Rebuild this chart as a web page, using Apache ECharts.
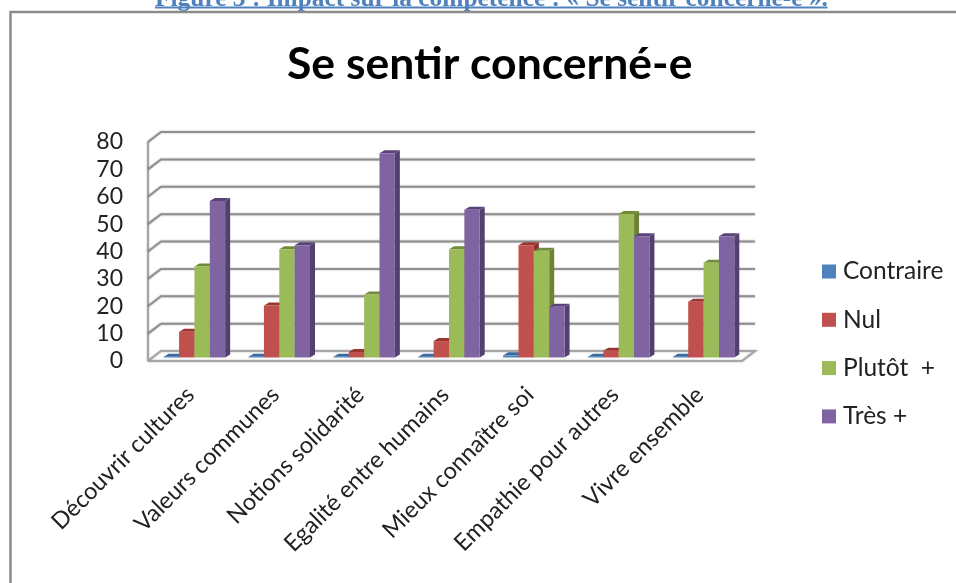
<!DOCTYPE html>
<html><head><meta charset="utf-8">
<style>html,body{margin:0;padding:0;background:#fff}#c{width:956px;height:583px}</style>
<script src="https://cdn.jsdelivr.net/npm/echarts@6/dist/echarts.min.js"></script>
</head><body><div id="c"></div>
<script>
const caption = 'Figure 3 : Impact sur la compétence : « Se sentir concerné-e ».';
const chartTitle = 'Se sentir concerné-e';
const categories = ['Découvrir cultures','Valeurs communes','Notions solidarité','Egalité entre humains','Mieux connaître soi','Empathie pour autres','Vivre ensemble'];
const contraire = [0.3,0.3,0.3,0.3,0.8,0.3,0.3];
const nul = [9.4,19,2,6,41,2.5,20.4];
const plutot = [33.2,39.5,23,39.5,39,52.4,34.6];
const tres = [57.2,41,74.6,54,18.5,44.3,44.3];
const yTicks = [0,10,20,30,40,50,60,70,80];

const seriesDefs = [
  {name:'Contraire', data:contraire, face:'#4F81BD', top:'#3A6A9E', side:'#2F5680'},
  {name:'Nul', data:nul, face:'#C0504D', top:'#9A3532', side:'#8A2F2C'},
  {name:'Plutôt  +', data:plutot, face:'#9BBB59', top:'#6F8C38', side:'#6B8237'},
  {name:'Très +', data:tres, face:'#8064A2', top:'#5A4378', side:'#52406F'}
];
const WALL_DX=13, WALL_DY=-10, BAR_DX=4, BAR_DY=-3.5, SIDE_DX=5, SIDE_DY=-3;
const lineStyle={stroke:'#8f8f8f',lineWidth:2,fill:null,shadowBlur:2,shadowColor:'rgba(0,0,0,0.3)'};

function wallItem(params,api){
  const v=api.value(0);
  const cs=params.coordSys;
  const y=api.coord([0,v])[1];
  const L=cs.x,R=cs.x+cs.width;
  const children=[];
  if(v===0){
    children.push({type:'polyline',shape:{points:[[L,y],[R,y],[R+WALL_DX,y+WALL_DY],[L+WALL_DX,y+WALL_DY],[L,y]]},style:Object.assign({},lineStyle,{stroke:'#a6a6a6'})});
    children.push({type:'line',shape:{x1:L,y1:y,x2:L,y2:cs.y},style:Object.assign({},lineStyle,{stroke:'#a6a6a6'})});
  } else {
    children.push({type:'polyline',shape:{points:[[L,y],[L+WALL_DX,y+WALL_DY],[R+WALL_DX,y+WALL_DY]]},style:lineStyle});
  }
  return {type:'group',children};
}
function barItem(idx,def){
  return function(params,api){
    const cat=api.value(0), val=api.value(1);
    const base=api.coord([cat,0]);
    const topP=api.coord([cat,val]);
    const band=api.size([1,0])[0];
    const w=band*0.181;
    const x0=base[0]+BAR_DX+(idx-2)*w, x1=x0+w;
    const y0=base[1]+BAR_DY, y1=topP[1]+BAR_DY;
    return {type:'group',children:[
      {type:'polygon',shape:{points:[[x1,y0],[x1+SIDE_DX,y0+SIDE_DY],[x1+SIDE_DX,y1+SIDE_DY],[x1,y1]]},style:{fill:def.side}},
      {type:'polygon',shape:{points:[[x0,y1],[x0+SIDE_DX,y1+SIDE_DY],[x1+SIDE_DX,y1+SIDE_DY],[x1,y1]]},style:{fill:def.top}},
      {type:'rect',shape:{x:x0,y:y1,width:w,height:y0-y1},style:{fill:def.face}}
    ]};
  };
}
const series=[{type:'custom',name:'walls',silent:true,z:1,coordinateSystem:'cartesian2d',
  data:yTicks.map(v=>[0,v]),encode:{y:1},renderItem:(p,a)=>{const v=a.value(1);return wallItem(p,{value:()=>v,coord:a.coord});},clip:false,animation:false}];
seriesDefs.forEach((d,i)=>series.push({type:'custom',name:d.name,z:2+i,clip:false,animation:false,
  itemStyle:{color:d.face},encode:{x:0,y:1},
  data:d.data.map((v,k)=>[k,v]),renderItem:barItem(i,d)}));

const chart=echarts.init(document.getElementById('c'),null,{renderer:'canvas'});
const sans='Lato, "Noto Sans", sans-serif';
chart.setOption({
  animation:false,backgroundColor:'#fff',
  title:{text:chartTitle,left:287,top:42,itemGap:0,padding:0,
    textStyle:{fontFamily:sans,fontSize:44.5,fontWeight:'bold',color:'#000'}},
  legend:{orient:'vertical',left:817,top:254,itemWidth:14,itemHeight:14,itemGap:23.3,icon:'rect',
    data:seriesDefs.map(d=>d.name),selectedMode:false,
    textStyle:{fontFamily:sans,fontSize:24.5,color:'#222',lineHeight:24,padding:[0,0,0,2]}},
  grid:{left:148,top:142,width:594,height:219,containLabel:false},
  xAxis:{type:'category',data:categories,axisLine:{show:false},axisTick:{show:false},splitLine:{show:false},
    axisLabel:{rotate:45,interval:0,margin:30,fontFamily:sans,fontSize:23.5,color:'#222'}},
  yAxis:{type:'value',min:0,max:80,interval:10,axisLine:{show:false},axisTick:{show:false},splitLine:{show:false},
    axisLabel:{margin:25,fontFamily:sans,fontSize:23,color:'#222',padding:[8,0,0,0]}},
  graphic:[
    {type:'text',silent:true,z:1,style:{x:491.5,y:12,text:caption,align:'center',verticalAlign:'bottom',
      font:'bold 25.4px "Liberation Serif", serif',fill:'#4F81BD'}},
    {type:'rect',silent:true,z:2,shape:{x:155,y:6.5,width:672.5,height:2},style:{fill:'#4F81BD'}},
    {type:'polyline',silent:true,z:3,shape:{points:[[10.5,583],[10.5,12],[956,12]]},style:{stroke:'#8c8c8c',lineWidth:2.5,fill:null}}
  ],
  series
});
</script></body></html>
